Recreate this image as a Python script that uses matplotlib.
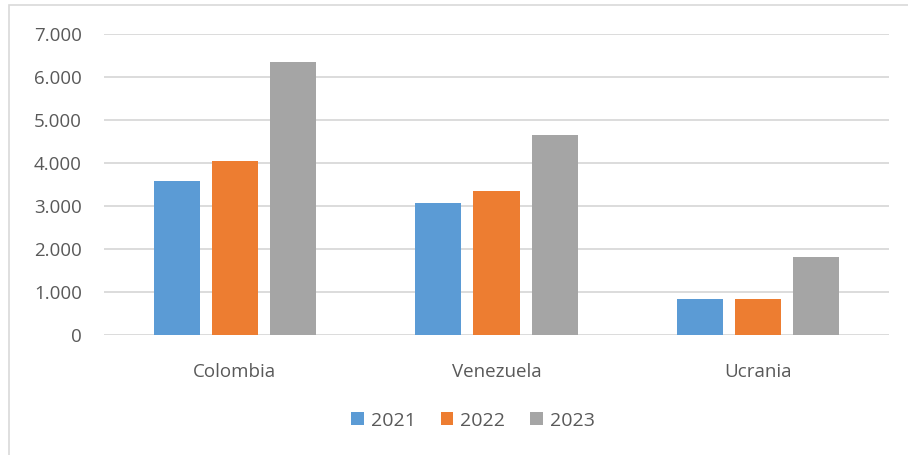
import matplotlib
matplotlib.use('Agg')
import matplotlib.pyplot as plt
import matplotlib.patches as mpatches
from matplotlib.ticker import FuncFormatter
import numpy as np

# datos
paises = ['Colombia', 'Venezuela', 'Ucrania']
anios = ['2021', '2022', '2023']
v2021 = [3570, 3060, 830]
v2022 = [4050, 3360, 830]
v2023 = [6340, 4640, 1820]
colores = ['#5B9BD5', '#ED7D31', '#A5A5A5']

plt.rcParams['font.family'] = ['Open Sans', 'DejaVu Sans']

W, H = 908, 455
fig = plt.figure(figsize=(W / 100, H / 100), dpi=100)
fig.patch.set_facecolor('white')

# marco del gráfico
fig.patches.append(mpatches.Rectangle((9 / W, -0.1), 1.2, (H - 5) / H + 0.1,
                                      transform=fig.transFigure, fill=False,
                                      edgecolor='#D9D9D9', linewidth=1.2))

ax = fig.add_axes([104 / W, (H - 335) / H, (889 - 104) / W, (335 - 34) / H])

x = np.arange(len(paises))
ancho = 0.176
paso = 0.222
for i, (vals, col, lab) in enumerate(zip([v2021, v2022, v2023], colores, anios)):
    ax.bar(x + (i - 1) * paso, vals, width=ancho, color=col, label=lab, zorder=3)

ax.set_xlim(-0.5, 2.5)
ax.set_ylim(0, 7000)
ax.set_yticks(range(0, 7001, 1000))
ax.yaxis.set_major_formatter(FuncFormatter(lambda v, p: f'{int(v):,}'.replace(',', '.')))
ax.set_xticks(x)
ax.set_xticklabels(paises)
ax.grid(axis='y', color='#D9D9D9', linewidth=1.3, zorder=0)
for s in ax.spines.values():
    s.set_visible(False)
ax.tick_params(length=0, colors='#595959', labelsize=13.5)
ax.tick_params(axis='y', pad=16)
ax.tick_params(axis='x', pad=20)

ax.legend(loc='center', bbox_to_anchor=(0.47, -0.285), ncol=3, frameon=False,
          fontsize=14, labelcolor='#595959', handlelength=0.65, handleheight=0.65,
          handletextpad=0.35, columnspacing=1.3)

plt.savefig('out.png', dpi=100, facecolor='white')
